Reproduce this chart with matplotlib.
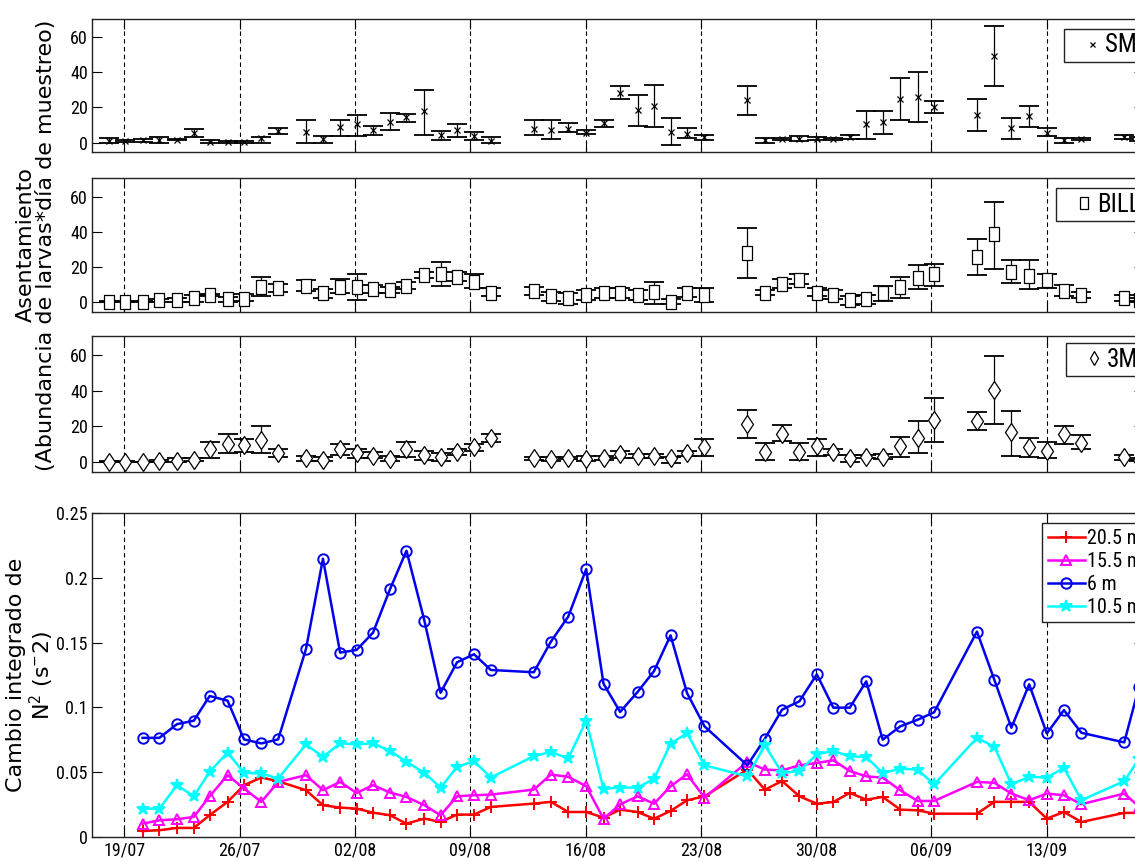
import datetime
import numpy as np
import matplotlib
matplotlib.use('Agg')
import matplotlib.pyplot as plt
from matplotlib import font_manager
from matplotlib.lines import Line2D

# --- data: days counted from 19/07 -------------------------------------------
dia0 = datetime.date(2011, 7, 19)

dias_n2 = [1.11, 2.13, 3.2, 4.22, 5.18, 6.27, 7.27, 8.32, 9.34, 11.03, 12.06,
           13.1, 14.1, 15.1, 16.13, 17.13, 18.22, 19.2, 20.2, 21.23, 22.25,
           24.86, 25.9, 26.95, 28.04, 29.09, 30.1, 31.16, 32.16, 33.16, 34.16,
           35.22, 37.82, 38.89, 39.93, 40.98, 42.04, 43.04, 44.04, 45.04,
           46.04, 47.11, 48.16, 49.16, 51.76, 52.82, 53.85, 54.93, 56.0,
           57.04, 58.1, 60.7, 61.6]
dias_larvas = [-0.94, 0.04] + dias_n2

n2_205 = [0.0046, 0.0052, 0.007, 0.007, 0.0168, 0.0271, 0.04, 0.0459, 0.043,
          0.0361, 0.0245, 0.0227, 0.0219, 0.0188, 0.0168, 0.0103, 0.0142,
          0.0116, 0.0173, 0.0173, 0.0232, 0.0258, 0.0271, 0.0193, 0.0193,
          0.0149, 0.0211, 0.0193, 0.0141, 0.0201, 0.0283, 0.0314, 0.052,
          0.0365, 0.0432, 0.0314, 0.0257, 0.027, 0.034, 0.0288, 0.0309,
          0.0211, 0.0206, 0.018, 0.018, 0.0271, 0.0271, 0.0271, 0.0142,
          0.0193, 0.0116, 0.0186, 0.0186]
n2_155 = [0.0103, 0.0129, 0.0137, 0.0155, 0.0314, 0.0477, 0.0374, 0.0271,
          0.0425, 0.0477, 0.0361, 0.0425, 0.034, 0.04, 0.0343, 0.0309, 0.0245,
          0.0168, 0.0314, 0.0322, 0.0327, 0.0366, 0.0482, 0.0464, 0.0392,
          0.0141, 0.0252, 0.0314, 0.0257, 0.0391, 0.0484, 0.0304, 0.0579,
          0.052, 0.0514, 0.0553, 0.0571, 0.0592, 0.0509, 0.0468, 0.0458,
          0.036, 0.0278, 0.0278, 0.0425, 0.0418, 0.0335, 0.0284, 0.0335,
          0.0322, 0.0253, 0.0335, 0.0234]
n2_6 = [0.0765, 0.0765, 0.0871, 0.0897, 0.1088, 0.1052, 0.0753, 0.0722,
        0.0753, 0.1451, 0.2147, 0.1423, 0.1443, 0.1577, 0.1912, 0.2209,
        0.1668, 0.1113, 0.1348, 0.141, 0.1289, 0.1271, 0.1508, 0.1701, 0.2067,
        0.1183, 0.0965, 0.1119, 0.1281, 0.1556, 0.1111, 0.0854, 0.0553,
        0.0759, 0.0983, 0.1047, 0.1255, 0.0998, 0.0998, 0.1201, 0.0751,
        0.0854, 0.0905, 0.0962, 0.1585, 0.1211, 0.0843, 0.1178, 0.0799,
        0.0979, 0.0804, 0.073, 0.116]
n2_105 = [0.0219, 0.0219, 0.04, 0.0314, 0.0503, 0.0652, 0.0495, 0.049, 0.0451,
          0.0714, 0.0619, 0.0722, 0.0716, 0.0722, 0.0665, 0.058, 0.0495,
          0.0381, 0.0541, 0.0585, 0.0459, 0.0624, 0.0657, 0.0606, 0.0897,
          0.0373, 0.0381, 0.0381, 0.045, 0.072, 0.0802, 0.0553, 0.0468,
          0.0707, 0.0494, 0.0509, 0.0638, 0.0664, 0.0622, 0.0617, 0.0494,
          0.0527, 0.052, 0.0406, 0.0765, 0.0696, 0.0407, 0.0464, 0.0459,
          0.0533, 0.0284, 0.0431, 0.0603]

# settlement: mean, lower and upper limit for each site
sm_med = [1.0, 0.6, 1.3, 1.3, 1.7, 5.7, 0.4, 0.4, 0.4, 2.5, 6.5, 6.1, 2.3, 9.0,
          10.3, 7.0, 11.8, 14.3, 17.9, 4.2, 7.0, 3.6, 1.0, 8.0, 7.4, 8.0, 5.7,
          10.9, 28.4, 18.5, 20.8, 6.1, 5.1, 2.9, 24.2, 1.3, 2.1, 2.1, 2.1, 2.1,
          2.9, 10.5, 11.8, 24.6, 26.1, 20.0, 15.6, 49.3, 8.4, 15.2, 5.5, 1.3,
          2.1, 3.2, 2.0]
sm_inf = [0, 0.3, 0.4, 0, 1.3, 3.0, 0, 0, 0, 0, 5.1, 0, 0, 4.0, 4.0, 4.4, 7.0,
          12.0, 4.4, 1.3, 3.0, 1.5, 0, 4.2, 2.3, 5.9, 5.0, 9.0, 24.6, 9.3, 9.0,
          -1.5, 2.7, 1.3, 15.6, -0.2, 1.3, 1.0, 1.3, 1.3, 2.1, 2.3, 5.1, 12.8,
          11.8, 17.0, 6.7, 32.2, 2.3, 9.0, 3.6, -0.2, 1.3, 2.1, 1.0]
sm_sup = [2.7, 1.3, 2.3, 2.9, 2.3, 8.0, 1.3, 0.6, 0.6, 3.0, 8.2, 12.6, 3.8,
          12.6, 15.6, 9.7, 17.1, 16.4, 29.9, 6.7, 10.3, 5.9, 2.9, 12.6, 12.6,
          11.0, 7.0, 12.8, 32.2, 27.4, 32.8, 14.1, 8.2, 4.4, 32.2, 2.7, 2.7,
          3.6, 2.9, 2.7, 4.2, 17.9, 17.9, 36.6, 40.4, 23.8, 24.6, 66.7, 14.1,
          20.8, 8.2, 2.7, 2.7, 4.2, 3.0]

bill_med = [0.5, 0.5, 0.5, 1.3, 1.3, 2.6, 4.1, 1.9, 1.9, 8.8, 8.4, 9.4, 5.1,
            8.8, 8.8, 7.5, 6.9, 9.4, 15.6, 16.3, 14.4, 11.6, 5.6, 6.6, 3.6,
            2.4, 4.3, 5.3, 5.3, 4.3, 6.2, 0.4, 5.6, 4.3, 28.1, 5.6, 10.3, 12.6,
            5.6, 4.3, 1.3, 1.9, 5.1, 8.8, 14.1, 15.9, 25.7, 38.5, 17.4, 15.0,
            12.6, 6.6, 4.3, 2.4, 1.5]
bill_inf = [0, 0, 0, 0, 0.4, 0.4, 3.6, 0, 0.6, 3.8, 6.2, 6.6, 2.8, 5.1, 1.3,
            5.6, 5.1, 7.9, 14.1, 9.4, 12.2, 8.1, 3.8, 4.3, 0.9, -0.6, 1.3, 2.8,
            2.5, 1.3, -0.9, -0.9, 3.2, 0, 14.1, 4.3, 8.1, 10.3, 3.8, 1.9, -1.3,
            -0.9, 0.6, 2.8, 7.5, 9.4, 15.4, 19.1, 10.9, 7.5, 8.4, 3.8, 2.4,
            0.6, 0.5]
bill_sup = [1.0, 1.0, 1.0, 2.0, 2.4, 4.3, 4.6, 3.2, 4.7, 14.4, 10.3, 12.6, 7.5,
            13.1, 15.9, 9.8, 8.8, 11.6, 17.3, 22.9, 17.3, 16.3, 8.4, 8.8, 6.2,
            5.1, 6.9, 8.1, 8.1, 6.9, 11.8, 1.9, 8.4, 8.1, 42.2, 6.9, 13.1,
            15.9, 8.4, 6.9, 3.8, 4.3, 9.4, 14.4, 21.2, 22.0, 36.0, 56.8, 24.2,
            24.2, 16.3, 9.9, 6.2, 4.3, 2.5]

tm_med = [0.4, 0.2, 0.1, 0.7, 0.7, 1.3, 7.2, 10.5, 9.5, 12.3, 5.3, 2.2, 1.3,
          7.7, 5.0, 3.5, 1.7, 7.7, 4.0, 2.8, 5.9, 8.6, 13.8, 2.2, 1.7, 2.2,
          2.0, 2.2, 4.6, 3.5, 3.5, 2.2, 5.0, 8.3, 21.5, 5.9, 16.0, 5.9, 9.0,
          5.9, 2.2, 3.1, 3.1, 9.0, 13.8, 23.7, 22.9, 40.2, 16.9, 8.3, 6.4,
          15.6, 10.8, 2.8, 1.5]
tm_inf = [0, 0, 0, 0, 0, 0.7, 2.2, 5.0, 5.9, 5.0, 2.8, 0.7, 0.7, 4.0, 2.2, 2.2,
          0.7, 3.1, 1.3, 0.7, 4.0, 6.4, 11.4, 1.3, 0.9, 1.7, 0.7, 1.3, 2.2,
          2.6, 2.4, -0.2, 3.5, 3.5, 13.8, 1.3, 11.9, 1.3, 3.5, 4.0, 0.4, 2.2,
          2.0, 3.1, 5.0, 11.4, 17.8, 21.5, 3.5, 2.8, 2.2, 10.5, 7.2, 1.3, 0.5]
tm_sup = [0.8, 0.6, 0.4, 1.3, 2.2, 2.2, 11.4, 15.6, 13.2, 20.0, 7.7, 3.5, 3.1,
          10.5, 7.7, 5.9, 3.5, 11.4, 6.4, 5.0, 7.2, 10.1, 16.0, 3.1, 2.8, 3.1,
          3.5, 3.5, 6.4, 4.6, 4.6, 3.1, 6.4, 13.2, 29.4, 10.8, 20.6, 10.8,
          13.2, 7.7, 4.0, 4.0, 4.4, 14.1, 22.9, 36.1, 28.3, 59.4, 28.8, 13.6,
          11.4, 20.0, 15.0, 4.0, 2.5]

semanas = np.arange(0, 57, 7)
etiquetas_x = [(dia0 + datetime.timedelta(days=int(d))).strftime('%d/%m')
               for d in semanas]

# --- fonts: a narrow face for ticks and legends if one is installed ---------
def fuente_estrecha():
    preferidas = ['Liberation Sans Narrow', 'Arial Narrow', 'Roboto Condensed',
                  'Noto Sans Condensed', 'Noto Sans', 'DejaVu Sans Condensed',
                  'DejaVu Sans', 'Open Sans Condensed', 'Open Sans']
    cand = []
    for f in font_manager.fontManager.ttflist:
        estrecho = (f.stretch in ('condensed', 'semi-condensed')
                    or 'Narrow' in f.name or 'Condensed' in f.name)
        if estrecho and f.style == 'normal' and f.weight in (400, 'normal',
                                                             'regular', 'book'):
            cand.append(f)
    for nombre in preferidas:
        for f in cand:
            if f.name == nombre:
                return f.name, f.stretch
    if cand:
        return cand[0].name, cand[0].stretch
    return 'Liberation Sans', 'normal'


fam_estrecha, est_estrecha = fuente_estrecha()
plt.rcParams['font.family'] = [fam_estrecha, 'DejaVu Sans']
plt.rcParams['font.stretch'] = est_estrecha
plt.rcParams['mathtext.fontset'] = 'dejavusans'

W, H = 1135, 863
fig = plt.figure(figsize=(W / 100, H / 100), dpi=100)
fig.patch.set_facecolor('white')

x_izq, x_der = -1.96, 61.9
px_izq, px_der = 92, 1144


def ejes(top, bottom):
    return fig.add_axes([px_izq / W, 1 - bottom / H,
                         (px_der - px_izq) / W, (bottom - top) / H])


def formato(ax, ylim, yticks):
    ax.set_xlim(x_izq, x_der)
    ax.set_ylim(*ylim)
    ax.set_yticks(yticks)
    ax.set_xticks(semanas)
    ax.xaxis.grid(True, linestyle=(0, (4, 3)), color='k', linewidth=0.8)
    ax.tick_params(direction='in', length=7.5, width=0.8, top=True,
                   right=True, labelsize=13, pad=3)
    for s in ax.spines.values():
        s.set_linewidth(1.0)
        s.set_color('#222222')


rect = [(-0.33, -0.5), (0.33, -0.5), (0.33, 0.5), (-0.33, 0.5), (-0.33, -0.5)]
sitios = [
    (sm_med, sm_inf, sm_sup, 'x', 4.5, 'SM', (19, 152), (1064, 29)),
    (bill_med, bill_inf, bill_sup, rect, 10, 'BILL', (178, 312), (1056, 188)),
    (tm_med, tm_inf, tm_sup, 'd', 9.5, '3M', (336, 472), (1066, 343)),
]

for med, inf, sup, mk, ms, nombre, (t, b), (lx, ly) in sitios:
    ax = ejes(t, b)
    med = np.array(med)
    err = [med - np.array(inf), np.array(sup) - med]
    ax.errorbar(dias_larvas, med, yerr=err, fmt='none', ecolor='k',
                elinewidth=0.9, capsize=7.2, capthick=1.3, zorder=3)
    ax.plot(dias_larvas, med, linestyle='none', marker=mk, markersize=ms,
            markerfacecolor='white', markeredgecolor='k',
            markeredgewidth=0.9, zorder=4)
    formato(ax, (-5.4, 70.5), [0, 20, 40, 60])
    ax.set_xticklabels([])
    h = Line2D([], [], linestyle='none', marker=mk, markersize=ms * 0.8,
               markerfacecolor='white', markeredgecolor='k',
               markeredgewidth=0.9)
    ax.legend([h], [nombre], loc='upper left', bbox_to_anchor=(lx / W, 1 - ly / H),
              bbox_transform=fig.transFigure, borderaxespad=0, fontsize=18,
              frameon=True, fancybox=False, edgecolor='#222222',
              framealpha=1, borderpad=0.18, handlelength=1.9,
              handletextpad=-0.45)

# --- integrated N2 change ----------------------------------------------------
ax = ejes(513, 837)
series = [
    (n2_205, 'r', '+', 9, 'none', '20.5 m'),
    (n2_155, '#ff00ff', '^', 7, 'none', '15.5 m'),
    (n2_6, '#0000ee', 'o', 7.5, 'none', '6 m'),
    (n2_105, '#00ffff', '*', 9, '#00ffff', '10.5 m'),
]
for vals, col, mk, ms, fc, lab in series:
    ax.plot(dias_n2, vals, color=col, linewidth=1.8, marker=mk, markersize=ms,
            markerfacecolor=fc, markeredgecolor=col, markeredgewidth=1.4,
            label=lab)
formato(ax, (0, 0.25), [0, 0.05, 0.1, 0.15, 0.2, 0.25])
ax.set_yticklabels(['0', '0.05', '0.1', '0.15', '0.2', '0.25'])
ax.set_xticklabels(etiquetas_x)
ax.legend(loc='upper left', bbox_to_anchor=(1042 / W, 1 - 523 / H),
          bbox_transform=fig.transFigure, borderaxespad=0, fontsize=14.5,
          frameon=True, fancybox=False, edgecolor='#222222', framealpha=1,
          borderpad=0.28, handlelength=1.85, handletextpad=0.12,
          labelspacing=0.2)

# --- axis titles -------------------------------------------------------------
fig.text(36 / W, 1 - 245 / H,
         'Asentamiento\n(Abundancia de larvas*día de muestreo)',
         rotation=90, ha='center', va='center', multialignment='center',
         fontsize=16, family='DejaVu Sans', fontstretch='normal',
         linespacing=1.05)
fig.text(31 / W, 1 - 675 / H, 'Cambio integrado de\nN$^{2}$ (s$^{-}$2)',
         rotation=90, ha='center', va='center', multialignment='center',
         fontsize=16, family='DejaVu Sans', fontstretch='normal',
         linespacing=1.05)

fig.savefig('out.png', dpi=100)
